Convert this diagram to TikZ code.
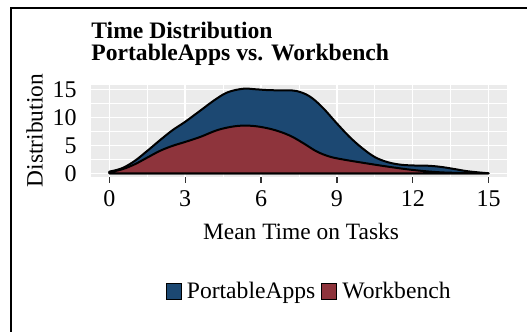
\documentclass[tikz,border=0pt]{standalone}
\usepackage{fontspec}
\setmainfont{Liberation Serif}
\usepackage{tikz}
\usetikzlibrary{positioning}

\definecolor{appsblue}{HTML}{1C4872}
\definecolor{benchred}{HTML}{8E343C}
\definecolor{panelgray}{HTML}{EBEBEB}
\definecolor{tickgray}{HTML}{333333}

\begin{document}
\begin{tikzpicture}[x=0.5pt, y=-0.5pt]

% Define styles
\tikzstyle{major} = [white, line width=0.7pt]
\tikzstyle{minor} = [white, line width=0.35pt]
\tikzstyle{area} = [draw=black, line width=1pt, line join=round]
\tikzstyle{ticklabel} = [inner sep=0pt, font=\fontsize{12}{14}\selectfont]
\tikzstyle{axistitle} = [inner sep=0pt, font=\fontsize{11.7}{14}\selectfont]
\tikzstyle{plottitle} = [anchor=base west, inner sep=0pt, font=\bfseries\fontsize{11.8}{14}\selectfont]
\tikzstyle{legkey} = [draw=black, line width=0.5pt, minimum size=7.6pt, inner sep=0pt]
\tikzstyle{legtext} = [anchor=base west, inner sep=0pt, font=\fontsize{11.8}{14}\selectfont]

% Canvas and outer frame
\useasboundingbox (0,0) rectangle (527,332);
\fill[white] (0,0) rectangle (527,332);
\draw[line width=0.6pt] (11,332) -- (11,8) -- (527,8);

% Title
\node[plottitle] (title1) at (91,38.3) {Time Distribution};
\node[plottitle] (title2) at (91,60.7) {PortableApps vs. Workbench};

% Panel in data units
\begin{scope}[shift={(109.3,173.3)}, x=12.645pt, y=2.8pt]
\fill[panelgray] (-0.72,-0.75) rectangle (15.72,15.75);
\foreach \t in {1.5,4.5,...,13.5} \draw[minor] (\t,-0.75) -- (\t,15.75);
\foreach \v in {2.5,7.5,12.5} \draw[minor] (-0.72,\v) -- (15.72,\v);
\foreach \t in {0,3,...,15} \draw[major] (\t,-0.75) -- (\t,15.75);
\foreach \v in {0,5,10,15} \draw[major] (-0.72,\v) -- (15.72,\v);

% PortableApps stacked on Workbench
\draw[area, fill=appsblue] plot[smooth, tension=0.6] coordinates {
  (0,0.3) (0.5,0.9) (1,2.2) (1.5,4.0) (2,5.9) (2.5,7.7) (3,9.2) (3.6,11.2)
  (4.2,13.2) (4.7,14.5) (5.3,15.1) (5.8,15.0) (6.3,14.85) (7,14.8) (7.4,14.7)
  (7.9,13.8) (8.4,11.9) (9,8.9) (9.5,6.5) (10,4.5) (10.5,2.9) (11,2.0)
  (11.5,1.55) (12,1.4) (12.6,1.35) (13.1,1.15) (13.6,0.8) (14.2,0.35) (15,0)}
  -- (0,0) -- cycle;
% Workbench
\draw[area, fill=benchred] plot[smooth, tension=0.6] coordinates {
  (0,0.2) (0.5,0.7) (1,1.6) (1.5,2.8) (2,4.0) (2.5,4.9) (3,5.6) (3.6,6.5)
  (4.2,7.6) (4.7,8.2) (5.2,8.5) (5.7,8.45) (6.2,8.1) (6.7,7.5) (7.2,6.6)
  (7.7,5.3) (8.2,3.9) (8.7,3.0) (9.2,2.5) (10,1.9) (11,1.2) (12,0.6)
  (13,0.2) (14,0.05) (15,0)}
  -- (0,0) -- cycle;

% Axis ticks and labels
\foreach \t in {0,3,...,15} {
  \draw[tickgray, line width=0.6pt] (\t,-0.75) -- (\t,-1.75);
  \node[ticklabel, anchor=base] (xl\t) at (\t,-5.85) {\t};
}
\foreach \v in {0,5,10,15}
  \node[ticklabel, anchor=east] (yl\v) at (-1.28,\v) {\v};
\end{scope}

% Axis titles
\node[axistitle, anchor=base] (xtitle) at (301,240) {Mean Time on Tasks};
\node[axistitle, rotate=90, anchor=base] (ytitle) at (42.5,130.5) {Distribution};

% Legend
\node[legkey, fill=appsblue] (keyapps) at (174,291.5) {};
\node[legtext] (txtapps) at (186.5,299) {PortableApps};
\node[legkey, fill=benchred] (keybench) at (329,291.5) {};
\node[legtext] (txtbench) at (342,299) {Workbench};

\end{tikzpicture}
\end{document}
